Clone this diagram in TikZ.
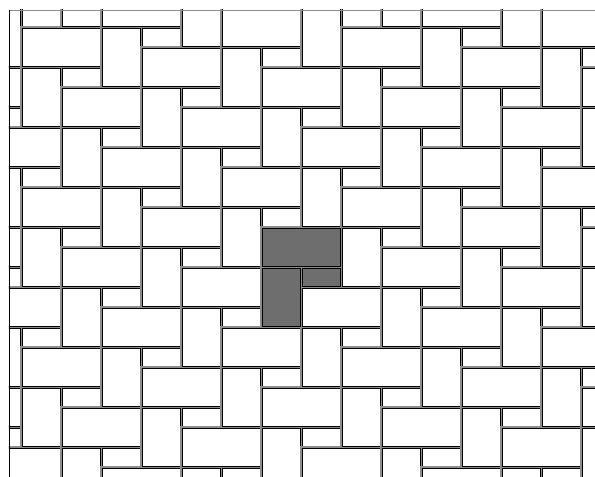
\documentclass[tikz,border=0pt]{standalone}
\usepackage{tikz}
\definecolor{tileGray}{HTML}{6E6E6E}
\definecolor{groutGray}{HTML}{8C8C8C}
\tikzset{
  grout/.style={draw=groutGray,line width=1.6pt},
  slab/.style={draw=black,fill=white,line width=0.8pt},
  marked/.style={slab,fill=tileGray}
}

\begin{document}
\begin{tikzpicture}[x=1cm,y=1cm]
  \useasboundingbox (-13.05,11.35) rectangle (16.7,-12.5);
  \begin{scope}
    \clip (-12.6,10.85) rectangle (16.8,-12.6);
    % one period: long slab, upright slab, small slab
    \foreach \i in {-6,...,6}{
      \foreach \j in {-6,...,7}{
        \begin{scope}[shift={({4*\i+2*\j},{2*\i-3*\j})}]
          \draw[grout] (0,0) rectangle (4,-2) (0,-2) rectangle (2,-5) (2,-2) rectangle (4,-3);
          \draw[slab] (0.06,-0.06) rectangle (3.94,-1.94);
          \draw[slab] (0.06,-2.06) rectangle (1.94,-4.94);
          \draw[slab] (2.06,-2.06) rectangle (3.94,-2.94);
        \end{scope}
      }
    }
    % highlighted period
    \draw[marked] (0.06,-0.06) rectangle (3.94,-1.94);
    \draw[marked] (0.06,-2.06) rectangle (1.94,-4.94);
    \draw[marked] (2.06,-2.06) rectangle (3.94,-2.94);
  \end{scope}
  \draw[groutGray,line width=0.8pt] (-12.6,10.85) -- (16.8,10.85);
  \draw[black,line width=0.8pt] (-12.6,-12.6) -- (-12.6,10.85);
\end{tikzpicture}
\end{document}
